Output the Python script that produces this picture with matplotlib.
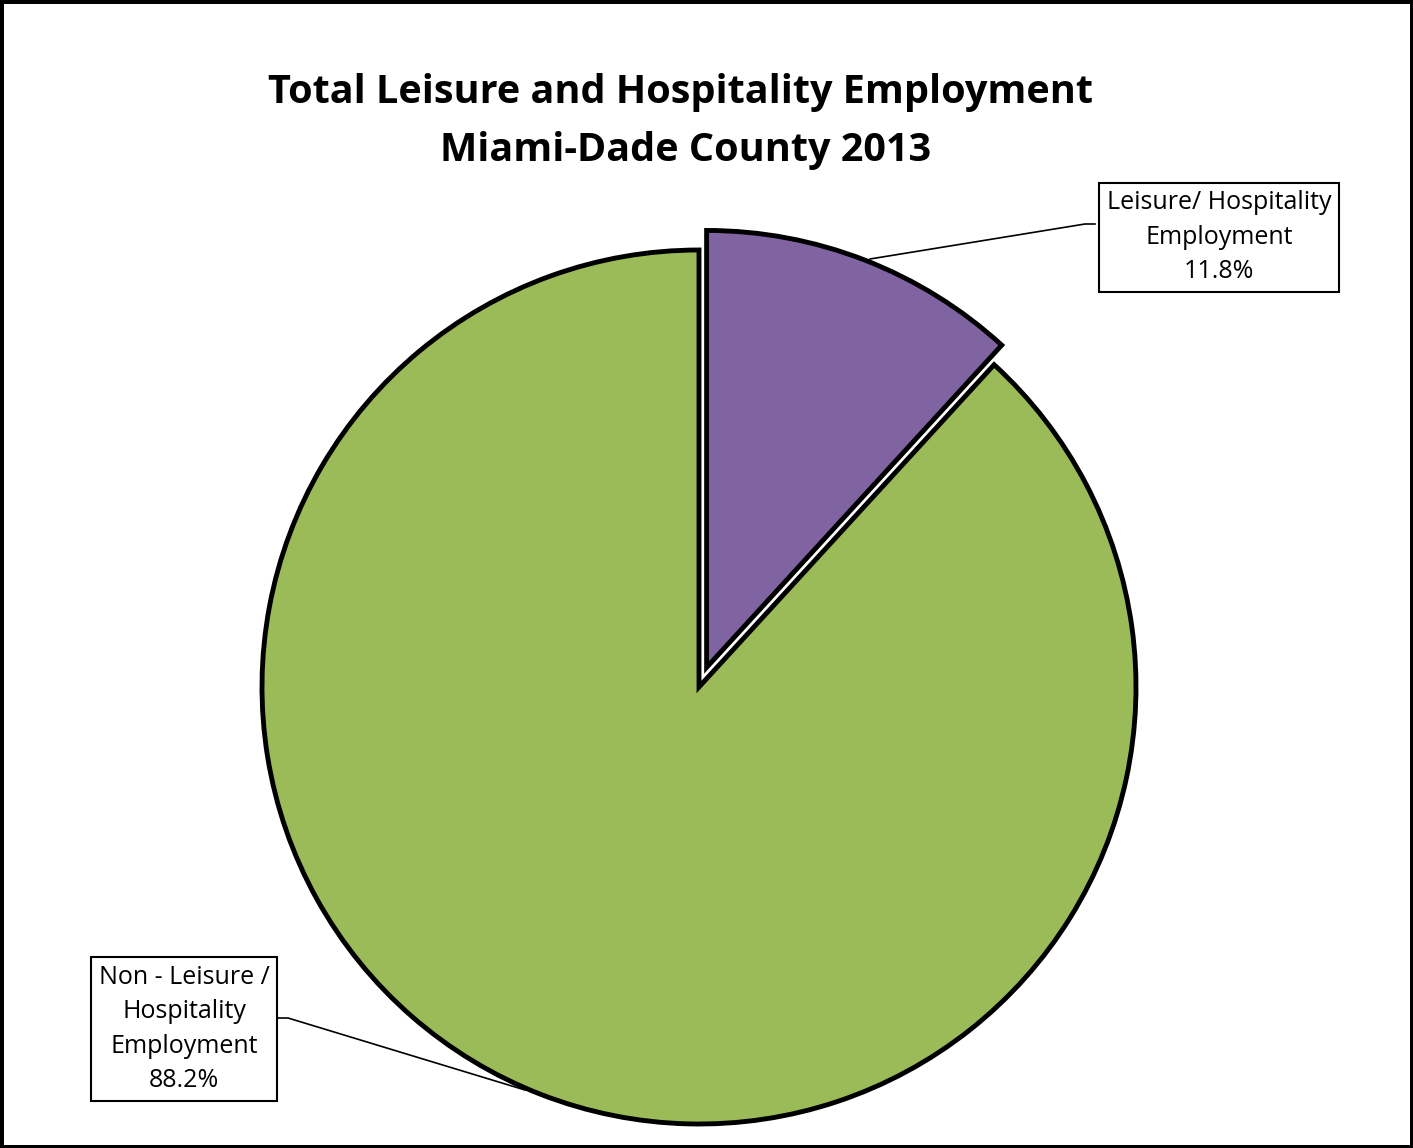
import matplotlib.pyplot as plt
import numpy as np

labels = ['Leisure/ Hospitality\nEmployment', 'Non - Leisure /\nHospitality\nEmployment']
shares = [11.8, 88.2]
colors = ['#8064A2', '#9BBB59']

W, H = 1413, 1148
plt.rcParams['font.family'] = ['Open Sans', 'DejaVu Sans']

fig = plt.figure(figsize=(W / 100, H / 100), dpi=100)
fig.patch.set_edgecolor('black')
fig.patch.set_linewidth(5)
ax = fig.add_axes([0, 0, 1, 1])

# pie in pixel coordinates (y measured from bottom)
cx, cy, r = 699, H - 687, 437
explode = [0.048 * r, 0.0]  # pie explode is in data units
wedges, _ = ax.pie(shares, colors=colors, explode=explode, startangle=90,
                   counterclock=False, center=(cx, cy), radius=r, frame=True,
                   wedgeprops=dict(edgecolor='black', linewidth=3.5))
ax.set_xlim(0, W)
ax.set_ylim(0, H)
ax.axis('off')

# title
ax.text(681, H - 93, 'Total Leisure and Hospitality Employment', ha='center', va='center',
        fontsize=28.5, fontweight='bold')
ax.text(686, H - 150, 'Miami-Dade County 2013', ha='center', va='center',
        fontsize=28.5, fontweight='bold')

# data labels with leader lines
box = dict(boxstyle='square,pad=0.3', facecolor='white', edgecolor='black', linewidth=1.5)
ax.text(1219, H - 237, f'{labels[0]}\n{shares[0]}%', ha='center', va='center',
        fontsize=18, linespacing=1.5, bbox=box)
ax.plot([870, 1085, 1095], [H - 259, H - 224, H - 224], color='black', lw=1.2)

ax.text(184, H - 1029, f'{labels[1]}\n{shares[1]}%', ha='center', va='center',
        fontsize=18, linespacing=1.5, bbox=box)
ax.plot([276, 288, 525], [H - 1018, H - 1018, H - 1090], color='black', lw=1.2)

fig.savefig('out.png', dpi=100)
